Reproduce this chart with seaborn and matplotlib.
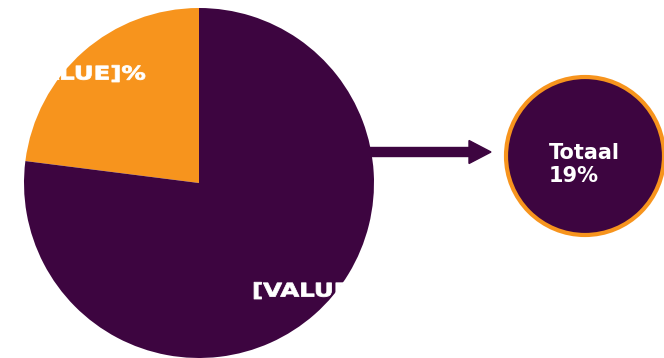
import matplotlib
matplotlib.use("Agg")
import matplotlib.pyplot as plt
from matplotlib.patches import Circle
from matplotlib.patheffects import AbstractPathEffect
from matplotlib.transforms import Affine2D
import seaborn as sns

# Share of the two groups in the pie (orange first, then purple)
categories = ["Deel", "Rest"]
shares = [23, 77]
slice_labels = ["[VALUE]%", "[VALUE]%"]
total_label = "Totaal\n19%"

PURPLE = "#3D0540"
ORANGE = "#F7941D"


class WideText(AbstractPathEffect):
    """Stretch the glyphs of a text horizontally about a fixed x (in pixels)
    and give them a thin outline in the text colour for extra weight."""

    def __init__(self, sx, x0, weight=0.6):
        super().__init__()
        self.sx = sx
        self.x0 = x0
        self.weight = weight

    def draw_path(self, renderer, gc, tpath, affine, rgbFace=None):
        stretch = Affine2D().translate(-self.x0, 0).scale(self.sx, 1).translate(self.x0, 0)
        gc0 = renderer.new_gc()
        gc0.copy_properties(gc)
        gc0.set_linewidth(self.weight)
        gc0.set_foreground(rgbFace)
        gc0.set_joinstyle("round")
        renderer.draw_path(gc0, tpath, affine + stretch, rgbFace)
        gc0.restore()


sns.set_theme(style="white")
plt.rcParams["font.family"] = ["DejaVu Sans"]
palette = sns.color_palette([ORANGE, PURPLE])

W, H = 664, 358
fig = plt.figure(figsize=(W / 100, H / 100), dpi=100)
ax = fig.add_axes([0, 0, 1, 1])

# Arrow from the pie towards the summary circle (partly hidden behind the pie)
ax.arrow(300, 206, 191, 0, width=9, head_width=23, head_length=22,
         length_includes_head=True, color=PURPLE, zorder=1)

ax.pie(shares, colors=palette, startangle=90, counterclock=True,
       center=(199, 175), radius=175, frame=True,
       wedgeprops=dict(linewidth=0, zorder=2))
ax.set_xlim(0, W)
ax.set_ylim(0, H)
ax.set_aspect("equal")
ax.axis("off")

# Slice labels in wide white lettering
label_style = dict(color="white", fontsize=13.5, fontweight="bold", zorder=3)
for (x, y, ha), text in zip([(146, 278.5, "right"), (252, 61.5, "left")], slice_labels):
    x0 = ax.transData.transform((x, y))[0]
    ax.text(x, y, text, ha=ha, va="baseline",
            path_effects=[WideText(1.3, x0)], **label_style)

# Summary circle
ax.add_patch(Circle((585, 202), 79, facecolor=PURPLE, edgecolor=ORANGE,
                    linewidth=3, zorder=2))
ax.text(549, 176, total_label, ha="left", va="baseline", linespacing=1.2,
        color="white", fontsize=15, fontweight="bold", zorder=3)

fig.savefig("out.png", dpi=100, facecolor="white")
